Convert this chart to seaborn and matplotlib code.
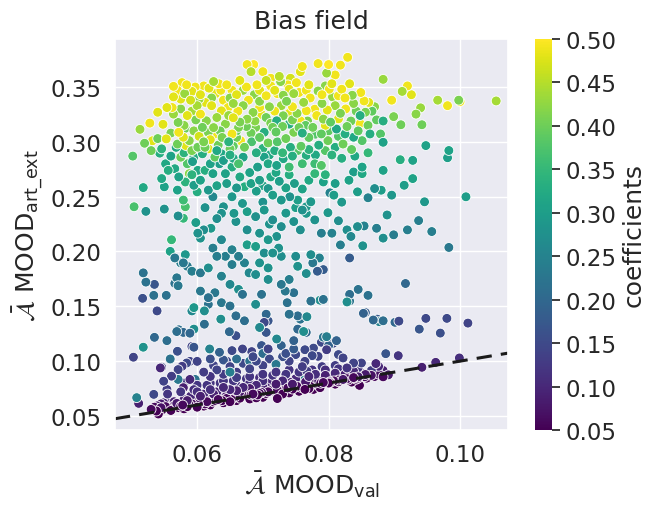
import numpy as np
import pandas as pd
import matplotlib
matplotlib.use("Agg")
import matplotlib.pyplot as plt
import seaborn as sns

# (MOOD_val, MOOD_art_ext, coefficient), by region
upper_cloud = [
    (0.0829,0.3771,0.49),(0.0818,0.3700,0.49),(0.0800,0.3705,0.50),(0.0784,0.3714,0.49),
    (0.0760,0.3687,0.49),(0.0757,0.3640,0.48),(0.0676,0.3705,0.49),(0.0686,0.3705,0.50),
    (0.0682,0.3640,0.45),(0.0700,0.3640,0.49),(0.0797,0.3627,0.43),(0.0810,0.3610,0.49),
    (0.0725,0.3597,0.45),(0.0712,0.3580,0.49),(0.0727,0.3550,0.42),(0.0738,0.3520,0.49),
    (0.0751,0.3540,0.49),(0.0691,0.3520,0.49),(0.0625,0.3550,0.44),(0.0633,0.3530,0.49),
    (0.0636,0.3470,0.49),(0.0618,0.3490,0.48),(0.0597,0.3500,0.49),(0.0577,0.3540,0.49),
    (0.0584,0.3520,0.49),(0.0564,0.3506,0.49),(0.0564,0.3410,0.48),(0.0581,0.3440,0.43),
    (0.0605,0.3430,0.48),(0.0653,0.3470,0.49),(0.0670,0.3470,0.43),(0.0687,0.3430,0.42),
    (0.0705,0.3420,0.49),(0.0718,0.3470,0.48),(0.0731,0.3425,0.42),(0.0747,0.3440,0.43),
    (0.0766,0.3470,0.49),(0.0784,0.3464,0.42),(0.0801,0.3480,0.49),(0.0806,0.3410,0.43),
    (0.0825,0.3400,0.49),(0.0836,0.3425,0.42),(0.0849,0.3450,0.49),(0.0854,0.3373,0.49),
    (0.0861,0.3360,0.48),(0.0870,0.3320,0.42),(0.0883,0.3570,0.43),(0.0896,0.3380,0.49),
    (0.0912,0.3460,0.44),(0.0920,0.3510,0.49),(0.0926,0.3430,0.48),(0.0933,0.3253,0.42),
    (0.0940,0.3310,0.43),(0.0942,0.3156,0.40),(0.0966,0.3380,0.44),(0.0981,0.3330,0.49),
    (0.0998,0.3380,0.41),(0.1000,0.3367,0.49),(0.1055,0.3373,0.44),(0.0910,0.3156,0.40),
    (0.0899,0.3230,0.41),(0.0883,0.3190,0.33),(0.0873,0.3200,0.39),(0.0848,0.3167,0.49),
    (0.0848,0.3240,0.33),(0.0834,0.3190,0.40),(0.0513,0.3114,0.43),(0.0520,0.2987,0.40),
    (0.0502,0.2870,0.38),(0.0540,0.3270,0.48),(0.0528,0.3171,0.49),(0.0532,0.3010,0.48),
    (0.0530,0.2920,0.40),(0.0546,0.2936,0.34),(0.0553,0.3027,0.48),(0.0554,0.3313,0.48),
    (0.0562,0.3313,0.49),(0.0564,0.3253,0.43),(0.0571,0.3177,0.41),(0.0582,0.3123,0.40),
    (0.0572,0.3087,0.49),(0.0579,0.3042,0.48),(0.0588,0.3011,0.42),(0.0583,0.2966,0.48),
    (0.0575,0.2860,0.40),(0.0585,0.2800,0.38),(0.0588,0.2710,0.42),(0.0614,0.3192,0.42),
    (0.0605,0.3253,0.49),(0.0608,0.3132,0.40),(0.0617,0.3087,0.41),(0.0627,0.3072,0.49),
    (0.0630,0.3222,0.43),(0.0637,0.3283,0.48),(0.0647,0.3313,0.49),(0.0643,0.3162,0.42),
    (0.0653,0.3072,0.49),(0.0601,0.2951,0.40),(0.0608,0.2891,0.33),(0.0617,0.2936,0.48),
    (0.0627,0.2861,0.39),(0.0637,0.2891,0.32),(0.0650,0.2936,0.40),(0.0666,0.3011,0.49),
    (0.0672,0.2951,0.40),(0.0663,0.3132,0.41),(0.0676,0.3207,0.42),(0.0685,0.3268,0.42),
    (0.0695,0.3313,0.49),(0.0705,0.3222,0.40),(0.0689,0.3132,0.41),(0.0702,0.3087,0.33),
    (0.0715,0.3132,0.40),(0.0721,0.3192,0.33),(0.0731,0.3238,0.41),(0.0740,0.3162,0.33),
    (0.0747,0.3087,0.41),(0.0757,0.3192,0.49),(0.0766,0.3283,0.49),(0.0779,0.3298,0.49),
    (0.0792,0.3207,0.42),(0.0776,0.3132,0.40),(0.0789,0.3072,0.39),(0.0799,0.3011,0.40),
    (0.0812,0.3117,0.32),(0.0825,0.3072,0.33),(0.0838,0.3042,0.32),(0.0851,0.3011,0.38),
    (0.0863,0.3072,0.33),(0.0879,0.3072,0.38),
    (0.0590,0.3380,0.47),(0.0600,0.3330,0.44),(0.0612,0.3360,0.48),(0.0622,0.3400,0.42),
    (0.0640,0.3380,0.49),(0.0655,0.3350,0.43),(0.0662,0.3280,0.49),(0.0670,0.3330,0.42),
    (0.0678,0.3380,0.49),(0.0695,0.3370,0.42),(0.0710,0.3320,0.42),(0.0718,0.3280,0.49),
    (0.0728,0.3330,0.43),(0.0736,0.3370,0.41),(0.0745,0.3320,0.49),(0.0752,0.3260,0.42),
    (0.0762,0.3360,0.43),(0.0772,0.3400,0.49),(0.0790,0.3350,0.42),(0.0798,0.3290,0.48),
    (0.0810,0.3330,0.43),(0.0818,0.3260,0.41),(0.0826,0.3300,0.49),(0.0838,0.3350,0.42),
    (0.0842,0.3280,0.40),(0.0856,0.3270,0.41),(0.0866,0.3280,0.39),(0.0768,0.3190,0.41),
    (0.0782,0.3240,0.49),(0.0803,0.3180,0.39),(0.0815,0.3210,0.48),(0.0735,0.3030,0.40),
    (0.0722,0.3000,0.38),(0.0708,0.2990,0.40),(0.0695,0.3040,0.39),(0.0682,0.3080,0.40),
    (0.0660,0.3040,0.40),(0.0648,0.3000,0.34),(0.0638,0.3040,0.41),(0.0620,0.3020,0.48),
    (0.0603,0.3050,0.47),(0.0595,0.3100,0.42),(0.0585,0.3240,0.48),(0.0575,0.3300,0.42),
    (0.0598,0.3200,0.41),(0.0655,0.3220,0.48),(0.0665,0.3180,0.41),(0.0712,0.3170,0.41),
    (0.0760,0.3080,0.33),(0.0770,0.3040,0.39),(0.0785,0.2970,0.33),(0.0795,0.2920,0.38),
    (0.0810,0.2950,0.33),(0.0822,0.2980,0.40),(0.0835,0.2930,0.39),(0.0758,0.2960,0.39),
    (0.0742,0.2950,0.33),
    (0.0570,0.3470,0.49),(0.0592,0.3460,0.48),(0.0610,0.3510,0.49),(0.0628,0.3440,0.48),
    (0.0645,0.3520,0.49),(0.0660,0.3430,0.48),(0.0675,0.3500,0.49),(0.0695,0.3470,0.48),
    (0.0712,0.3510,0.49),(0.0722,0.3440,0.49),(0.0740,0.3480,0.48),(0.0755,0.3450,0.49),
    (0.0770,0.3520,0.48),(0.0790,0.3430,0.49),(0.0805,0.3530,0.48),(0.0820,0.3480,0.49),
    (0.0832,0.3530,0.48),(0.0815,0.3420,0.49),(0.0795,0.3510,0.42),(0.0742,0.3580,0.47),
    (0.0705,0.3560,0.46),(0.0665,0.3560,0.48),(0.0650,0.3400,0.42),(0.0622,0.3330,0.48),
    (0.0603,0.3390,0.43),(0.0575,0.3390,0.48),
    (0.0580,0.3150,0.42),(0.0592,0.3280,0.44),(0.0610,0.3000,0.41),(0.0625,0.3130,0.42),
    (0.0635,0.3100,0.40),(0.0648,0.3240,0.43),(0.0660,0.3100,0.39),(0.0675,0.3140,0.40),
    (0.0688,0.3190,0.42),(0.0698,0.3250,0.48),(0.0720,0.3090,0.39),(0.0730,0.3140,0.40),
    (0.0745,0.3200,0.41),(0.0755,0.3130,0.40),(0.0765,0.3150,0.39),(0.0780,0.3070,0.38),
    (0.0800,0.3100,0.39),(0.0815,0.3050,0.38),(0.0828,0.3140,0.40),(0.0845,0.3100,0.39),
    (0.0860,0.3150,0.40),(0.0795,0.3150,0.48),(0.0740,0.3260,0.48),(0.0683,0.3000,0.37),
    (0.0655,0.2960,0.39),(0.0632,0.2970,0.40),(0.0612,0.2950,0.40),(0.0592,0.2920,0.41),
    (0.0570,0.2980,0.40),(0.0560,0.3080,0.41),(0.0548,0.3160,0.48),(0.0540,0.3030,0.40),
    (0.0700,0.2940,0.34),(0.0718,0.2920,0.33),(0.0730,0.2900,0.35),(0.0745,0.2870,0.33),
    (0.0770,0.2930,0.34),(0.0780,0.2880,0.32),(0.0805,0.2880,0.34),(0.0820,0.2850,0.33),
    (0.0840,0.2870,0.32),(0.0860,0.2900,0.35),(0.0650,0.2880,0.33),(0.0630,0.2920,0.32),
    (0.0595,0.2860,0.33),(0.0580,0.2900,0.34),
]

middle_teal = [
    (0.0504,0.2408,0.37),(0.0543,0.2897,0.33),(0.0546,0.2665,0.32),(0.0550,0.2590,0.31),
    (0.0556,0.2740,0.33),(0.0566,0.2755,0.32),(0.0518,0.2583,0.32),(0.0522,0.2366,0.28),
    (0.0550,0.2387,0.28),(0.0582,0.2634,0.34),(0.0601,0.2740,0.32),(0.0605,0.2650,0.31),
    (0.0595,0.2604,0.30),(0.0600,0.2544,0.33),(0.0579,0.2469,0.36),(0.0582,0.2408,0.37),
    (0.0571,0.2324,0.27),(0.0579,0.2303,0.35),(0.0598,0.2264,0.30),(0.0601,0.2167,0.28),
    (0.0610,0.2197,0.27),(0.0621,0.2212,0.29),(0.0605,0.2122,0.28),(0.0624,0.2710,0.31),
    (0.0634,0.2800,0.30),(0.0643,0.2710,0.31),(0.0653,0.2770,0.33),(0.0663,0.2800,0.37),
    (0.0883,0.2996,0.31),(0.0909,0.2837,0.33),(0.0948,0.2966,0.31),(0.0983,0.2921,0.31),
    (0.0981,0.2855,0.30),(0.1009,0.2499,0.30),(0.0928,0.2831,0.31),(0.0928,0.2665,0.31),
    (0.0915,0.2604,0.30),(0.0896,0.2514,0.29),(0.0946,0.2453,0.29),(0.0883,0.2740,0.31),
    (0.0851,0.2770,0.31),(0.0851,0.2710,0.32),(0.0838,0.2725,0.30),(0.0831,0.2650,0.31),
    (0.0844,0.2544,0.30),(0.0860,0.2490,0.25),(0.0870,0.2574,0.27),(0.0880,0.2559,0.30),
    (0.0808,0.2514,0.30),(0.0802,0.2535,0.25),(0.0792,0.2634,0.31),(0.0779,0.2710,0.35),
    (0.0789,0.2785,0.38),(0.0779,0.2800,0.36),(0.0760,0.2800,0.36),(0.0766,0.2876,0.33),
    (0.0753,0.2921,0.38),(0.0740,0.2770,0.36),(0.0731,0.2846,0.32),(0.0721,0.2785,0.31),
    (0.0708,0.2800,0.32),(0.0702,0.2861,0.31),(0.0692,0.2770,0.30),(0.0695,0.2650,0.30),
    (0.0682,0.2620,0.31),(0.0708,0.2574,0.29),(0.0672,0.2590,0.33),(0.0715,0.2514,0.30),
    (0.0728,0.2469,0.29),(0.0741,0.2499,0.28),(0.0753,0.2469,0.30),(0.0766,0.2408,0.29),
    (0.0669,0.2438,0.29),(0.0676,0.2363,0.30),(0.0689,0.2318,0.28),(0.0702,0.2378,0.29),
    (0.0715,0.2288,0.27),(0.0653,0.2499,0.29),(0.0656,0.2348,0.29),(0.0637,0.2348,0.28),
    (0.0624,0.2499,0.26),(0.0640,0.2408,0.28),(0.0659,0.2273,0.28),(0.0676,0.2197,0.27),
    (0.0695,0.2167,0.28),(0.0708,0.2107,0.29),(0.0721,0.2137,0.28),(0.0728,0.2227,0.27),
    (0.0747,0.2273,0.28),(0.0757,0.2197,0.27),(0.0766,0.2348,0.29),(0.0779,0.2288,0.28),
    (0.0760,0.2378,0.28),(0.0773,0.2453,0.29),(0.0799,0.2354,0.29),(0.0789,0.2167,0.24),
    (0.0805,0.2167,0.25),(0.0818,0.2060,0.24),(0.0828,0.2197,0.27),(0.0844,0.2227,0.27),
    (0.0854,0.2233,0.25),(0.0834,0.2137,0.26),(0.0852,0.2052,0.28),(0.0832,0.1941,0.18),
    (0.0873,0.2212,0.24),(0.0889,0.2333,0.28),(0.0899,0.2152,0.24),(0.0920,0.2197,0.24),
    (0.0937,0.2282,0.24),(0.0957,0.2182,0.24),(0.0983,0.2037,0.23),(0.0883,0.2122,0.27),
    (0.0690,0.2550,0.30),(0.0700,0.2600,0.31),(0.0712,0.2680,0.32),(0.0725,0.2640,0.30),
    (0.0735,0.2580,0.31),(0.0748,0.2620,0.30),(0.0720,0.2720,0.32),(0.0680,0.2720,0.31),
    (0.0665,0.2680,0.32),(0.0660,0.2580,0.29),(0.0645,0.2620,0.30),(0.0630,0.2600,0.31),
    (0.0617,0.2560,0.29),(0.0612,0.2400,0.28),(0.0630,0.2300,0.27),(0.0700,0.2450,0.28),
    (0.0710,0.2250,0.28),(0.0735,0.2350,0.29),(0.0750,0.2400,0.30),(0.0815,0.2280,0.27),
    (0.0820,0.2450,0.29),(0.0810,0.2620,0.30),(0.0795,0.2700,0.34),(0.0770,0.2650,0.32),
    (0.0760,0.2570,0.31),(0.0740,0.2700,0.33),(0.0710,0.2880,0.32),(0.0690,0.2900,0.33),
    (0.0670,0.2860,0.31),(0.0655,0.2850,0.32),(0.0640,0.2830,0.30),(0.0620,0.2800,0.31),
    (0.0612,0.2740,0.33),(0.0570,0.2560,0.31),(0.0592,0.2700,0.34),(0.0572,0.2680,0.31),
    (0.0593,0.2820,0.30),(0.0568,0.2950,0.32),(0.0560,0.2870,0.31),(0.0552,0.2800,0.32),
]

middle_blue = [
    (0.0786,0.1941,0.25),(0.0792,0.1835,0.18),(0.0783,0.1820,0.18),(0.0766,0.1799,0.27),
    (0.0773,0.1971,0.27),(0.0776,0.1896,0.23),(0.0750,0.1956,0.27),(0.0753,0.1865,0.28),
    (0.0724,0.2031,0.28),(0.0728,0.1956,0.27),(0.0715,0.1986,0.28),(0.0702,0.1986,0.27),
    (0.0689,0.2046,0.30),(0.0676,0.2061,0.30),(0.0695,0.1896,0.28),(0.0708,0.1850,0.28),
    (0.0689,0.1790,0.27),(0.0679,0.1805,0.26),(0.0708,0.1745,0.27),(0.0663,0.1956,0.24),
    (0.0653,0.1881,0.24),(0.0672,0.1896,0.25),(0.0637,0.2107,0.26),(0.0624,0.2031,0.24),
    (0.0653,0.2016,0.25),(0.0643,0.1956,0.24),(0.0630,0.1956,0.24),(0.0617,0.1850,0.27),
    (0.0637,0.1775,0.25),(0.0650,0.1700,0.26),(0.0663,0.1654,0.27),(0.0605,0.1805,0.23),
    (0.0592,0.1820,0.24),(0.0585,0.1865,0.23),(0.0579,0.1896,0.23),(0.0566,0.1941,0.23),
    (0.0575,0.1896,0.24),(0.0569,0.1760,0.23),(0.0561,0.2107,0.35),(0.0559,0.2001,0.31),
    (0.0582,0.1971,0.29),(0.0566,0.1709,0.22),(0.0571,0.1688,0.23),(0.0518,0.1805,0.22),
    (0.0522,0.1721,0.22),(0.0535,0.1700,0.17),(0.0517,0.1573,0.16),(0.0534,0.1600,0.22),
    (0.0553,0.1600,0.22),(0.0539,0.1458,0.15),(0.0595,0.1488,0.29),(0.0592,0.1458,0.26),
    (0.0611,0.1458,0.27),(0.0605,0.1639,0.23),(0.0617,0.1579,0.22),(0.0627,0.1624,0.23),
    (0.0617,0.1518,0.22),(0.0637,0.1533,0.23),(0.0650,0.1503,0.22),(0.0669,0.1609,0.22),
    (0.0659,0.1413,0.21),(0.0672,0.1368,0.21),(0.0689,0.1518,0.27),(0.0698,0.1609,0.22),
    (0.0705,0.1428,0.20),(0.0708,0.1368,0.17),(0.0728,0.1700,0.23),(0.0740,0.1745,0.24),
    (0.0734,0.1639,0.23),(0.0747,0.1624,0.22),(0.0737,0.1533,0.22),(0.0740,0.1428,0.22),
    (0.0753,0.1413,0.21),(0.0757,0.1383,0.22),(0.0773,0.1548,0.22),(0.0792,0.1563,0.22),
    (0.0832,0.1609,0.21),(0.0845,0.1654,0.22),(0.0832,0.1548,0.22),(0.0860,0.1600,0.22),
    (0.0856,0.1443,0.18),(0.0874,0.1383,0.18),(0.0883,0.1368,0.21),(0.0907,0.1365,0.15),
    (0.0917,0.1708,0.20),(0.0948,0.1390,0.15),(0.0938,0.1292,0.17),(0.0980,0.1390,0.15),
    (0.0970,0.1256,0.16),(0.1012,0.1347,0.14),(0.0828,0.1540,0.27),(0.0787,0.1556,0.27),
    (0.0762,0.1270,0.27),(0.0767,0.1405,0.26),
]

lower_scatter = [
    (0.0595,0.1292,0.27),(0.0579,0.1262,0.20),(0.0572,0.1286,0.21),(0.0611,0.1337,0.21),
    (0.0636,0.1383,0.27),(0.0649,0.1268,0.20),(0.0659,0.1232,0.16),(0.0695,0.1307,0.26),
    (0.0702,0.1353,0.15),(0.0705,0.1262,0.17),(0.0721,0.1202,0.26),(0.0728,0.1142,0.19),
    (0.0747,0.1187,0.19),(0.0747,0.1111,0.18),(0.0766,0.1262,0.20),(0.0753,0.1292,0.20),
    (0.0797,0.1223,0.24),(0.0812,0.1187,0.19),(0.0800,0.1142,0.19),(0.0789,0.1172,0.15),
    (0.0535,0.1217,0.20),(0.0518,0.1127,0.28),(0.0503,0.1036,0.14),(0.0554,0.1187,0.21),
    (0.0559,0.1020,0.22),(0.0546,0.0945,0.14),(0.0508,0.0667,0.25),(0.0511,0.0615,0.09),
    (0.0595,0.1127,0.17),(0.0619,0.1111,0.25),(0.0634,0.1081,0.19),(0.0653,0.1096,0.15),
    (0.0669,0.1111,0.14),(0.0683,0.1087,0.14),(0.0698,0.1142,0.17),(0.0708,0.1111,0.14),
    (0.0569,0.1270,0.21),(0.0589,0.1255,0.20),(0.0592,0.1134,0.14),(0.0853,0.1436,0.19),
    (0.0868,0.1375,0.20),(0.0877,0.1360,0.25),(0.0901,0.1354,0.20),
    (0.0942,0.0944,0.09),(0.0963,0.0989,0.10),(0.0999,0.1029,0.11),(0.0906,0.1050,0.12),
    (0.0887,0.1068,0.17),(0.0570,0.1090,0.16),(0.0620,0.1020,0.16),(0.0640,0.1010,0.17),
]

diagonal_band = [
    (0.0530,0.0560,0.06),(0.0538,0.0545,0.05),(0.0545,0.0575,0.07),(0.0541,0.0518,0.05),
    (0.0552,0.0585,0.06),(0.0558,0.0565,0.05),(0.0565,0.0595,0.07),(0.0572,0.0575,0.05),
    (0.0578,0.0600,0.06),(0.0585,0.0585,0.05),(0.0592,0.0610,0.06),(0.0598,0.0595,0.05),
    (0.0605,0.0625,0.06),(0.0612,0.0610,0.05),(0.0618,0.0640,0.07),(0.0625,0.0628,0.05),
    (0.0632,0.0650,0.06),(0.0638,0.0640,0.05),(0.0645,0.0660,0.06),(0.0652,0.0650,0.05),
    (0.0658,0.0675,0.07),(0.0665,0.0662,0.05),(0.0672,0.0690,0.06),(0.0678,0.0680,0.05),
    (0.0685,0.0700,0.06),(0.0692,0.0692,0.05),(0.0698,0.0715,0.07),(0.0705,0.0705,0.05),
    (0.0712,0.0730,0.06),(0.0718,0.0718,0.05),(0.0725,0.0745,0.07),(0.0732,0.0735,0.05),
    (0.0738,0.0755,0.06),(0.0745,0.0745,0.05),(0.0752,0.0770,0.06),(0.0758,0.0760,0.05),
    (0.0765,0.0780,0.06),(0.0772,0.0770,0.05),(0.0778,0.0795,0.07),(0.0785,0.0785,0.05),
    (0.0792,0.0805,0.06),(0.0800,0.0800,0.05),(0.0808,0.0820,0.06),(0.0815,0.0812,0.05),
    (0.0822,0.0835,0.06),(0.0830,0.0828,0.05),(0.0835,0.0809,0.05),(0.0847,0.0779,0.05),
    (0.0838,0.0850,0.06),(0.0845,0.0845,0.05),(0.0855,0.0858,0.06),(0.0865,0.0870,0.07),
    (0.0883,0.0857,0.06),(0.0877,0.0880,0.07),(0.0787,0.0758,0.05),(0.0777,0.0742,0.05),
    (0.0764,0.0742,0.05),(0.0802,0.0803,0.05),(0.0722,0.0659,0.05),(0.0700,0.0670,0.05),
    (0.0680,0.0655,0.05),(0.0660,0.0640,0.05),(0.0640,0.0620,0.05),(0.0620,0.0600,0.05),
    (0.0600,0.0580,0.05),(0.0580,0.0565,0.05),(0.0560,0.0550,0.05),(0.0740,0.0710,0.05),
    (0.0755,0.0725,0.05),
    (0.0535,0.0580,0.06),(0.0548,0.0560,0.05),(0.0562,0.0582,0.06),(0.0575,0.0590,0.06),
    (0.0588,0.0602,0.06),(0.0602,0.0610,0.06),(0.0615,0.0630,0.06),(0.0628,0.0640,0.06),
    (0.0642,0.0652,0.06),(0.0655,0.0665,0.06),(0.0668,0.0678,0.06),(0.0682,0.0692,0.06),
    (0.0695,0.0705,0.06),(0.0708,0.0720,0.06),(0.0722,0.0735,0.06),(0.0735,0.0748,0.06),
    (0.0748,0.0760,0.06),(0.0762,0.0772,0.06),(0.0775,0.0785,0.06),(0.0788,0.0798,0.06),
    (0.0802,0.0812,0.06),(0.0815,0.0828,0.06),(0.0828,0.0840,0.06),(0.0842,0.0835,0.05),
    (0.0858,0.0845,0.05),(0.0870,0.0860,0.06),(0.0610,0.0590,0.05),(0.0650,0.0630,0.05),
    (0.0690,0.0665,0.05),(0.0730,0.0700,0.05),(0.0770,0.0750,0.05),(0.0810,0.0790,0.05),
    (0.0539,0.0592,0.08),(0.0549,0.0620,0.09),(0.0559,0.0640,0.10),(0.0569,0.0615,0.08),
    (0.0580,0.0650,0.09),(0.0590,0.0680,0.10),(0.0600,0.0660,0.08),(0.0610,0.0700,0.10),
    (0.0620,0.0690,0.09),(0.0630,0.0720,0.10),(0.0640,0.0710,0.08),(0.0650,0.0740,0.10),
    (0.0660,0.0730,0.09),(0.0670,0.0760,0.10),(0.0680,0.0750,0.08),(0.0690,0.0780,0.10),
    (0.0700,0.0770,0.09),(0.0710,0.0800,0.10),(0.0720,0.0790,0.08),(0.0730,0.0820,0.10),
    (0.0740,0.0810,0.09),(0.0750,0.0840,0.10),(0.0760,0.0830,0.09),(0.0764,0.0833,0.08),
    (0.0791,0.0833,0.08),(0.0807,0.0842,0.08),(0.0822,0.0833,0.08),(0.0845,0.0857,0.08),
    (0.0856,0.0878,0.08),(0.0838,0.0908,0.10),(0.0872,0.0978,0.10),(0.0876,0.0953,0.10),
    (0.0891,0.0875,0.08),(0.0883,0.0915,0.09),(0.0770,0.0860,0.10),(0.0780,0.0880,0.11),
    (0.0795,0.0870,0.09),(0.0810,0.0890,0.10),(0.0825,0.0880,0.09),(0.0700,0.0820,0.11),
    (0.0680,0.0800,0.11),(0.0660,0.0780,0.11),(0.0640,0.0760,0.10),(0.0620,0.0740,0.11),
    (0.0600,0.0720,0.11),(0.0579,0.0758,0.09),(0.0589,0.0833,0.10),(0.0544,0.0938,0.10),
    (0.0545,0.0610,0.08),(0.0565,0.0630,0.09),(0.0585,0.0640,0.08),(0.0605,0.0680,0.09),
    (0.0625,0.0700,0.09),(0.0645,0.0690,0.08),(0.0665,0.0720,0.08),(0.0685,0.0740,0.09),
    (0.0705,0.0760,0.09),(0.0725,0.0770,0.08),(0.0745,0.0790,0.08),(0.0765,0.0810,0.08),
    (0.0785,0.0820,0.08),(0.0800,0.0850,0.09),(0.0818,0.0860,0.09),(0.0835,0.0875,0.09),
    (0.0850,0.0890,0.09),(0.0868,0.0900,0.09),
    (0.0549,0.0817,0.14),(0.0554,0.0742,0.13),(0.0534,0.0697,0.15),(0.0561,0.0863,0.13),
    (0.0571,0.0923,0.14),(0.0577,0.0953,0.13),(0.0584,0.0983,0.15),(0.0589,0.0998,0.14),
    (0.0600,0.0998,0.14),(0.0610,0.0900,0.13),(0.0620,0.0860,0.12),(0.0630,0.0920,0.14),
    (0.0640,0.0880,0.13),(0.0650,0.0950,0.14),(0.0660,0.0900,0.13),(0.0670,0.0980,0.15),
    (0.0680,0.0930,0.14),(0.0690,0.1000,0.15),(0.0700,0.0960,0.14),(0.0710,0.1020,0.15),
    (0.0720,0.0980,0.14),(0.0730,0.1040,0.16),(0.0740,0.1000,0.14),(0.0750,0.1060,0.15),
    (0.0760,0.0950,0.13),(0.0764,0.0998,0.14),(0.0767,0.0908,0.13),(0.0764,0.1104,0.15),
    (0.0777,0.1119,0.15),(0.0784,0.1044,0.14),(0.0797,0.1104,0.13),(0.0807,0.1163,0.15),
    (0.0822,0.1029,0.14),(0.0828,0.0938,0.12),(0.0838,0.0983,0.14),(0.0850,0.0983,0.14),
    (0.0865,0.0914,0.13),(0.0790,0.0950,0.13),(0.0810,0.0960,0.13),(0.0740,0.0920,0.12),
    (0.0720,0.0900,0.12),(0.0700,0.0880,0.12),(0.0680,0.0860,0.12),(0.0660,0.0850,0.13),
    (0.0640,0.0820,0.12),(0.0620,0.0800,0.12),(0.0600,0.0780,0.12),(0.0580,0.0800,0.13),
    (0.0555,0.0700,0.12),(0.0575,0.0720,0.12),(0.0595,0.0740,0.11),(0.0615,0.0780,0.12),
    (0.0635,0.0800,0.12),(0.0655,0.0820,0.12),(0.0675,0.0840,0.12),(0.0695,0.0850,0.11),
    (0.0715,0.0870,0.12),(0.0735,0.0880,0.12),(0.0755,0.0900,0.12),(0.0775,0.0920,0.12),
    (0.0795,0.0920,0.11),(0.0815,0.0930,0.12),(0.0625,0.0960,0.14),(0.0645,0.1000,0.15),
    (0.0685,0.1040,0.15),(0.0735,0.1070,0.16),(0.0775,0.1050,0.15),(0.0815,0.1060,0.15),
    (0.0845,0.0940,0.12),
    (0.0571,0.0833,0.23),(0.0597,0.0833,0.22),(0.0559,0.1014,0.24),(0.0650,0.0900,0.24),
    (0.0680,0.1000,0.22),(0.0720,0.0970,0.23),(0.0760,0.0830,0.24),(0.0792,0.1219,0.22),
    (0.0700,0.1070,0.21),(0.0660,0.1020,0.21),
]

title = "Bias field"
x_label = r"$\bar{\mathcal{A}}$ MOOD$_{\mathrm{val}}$"
y_label = r"$\bar{\mathcal{A}}$ MOOD$_{\mathrm{art\_ext}}$"
cbar_label = "coefficients"
coef_range = (0.05, 0.50)
cbar_ticks = [0.05, 0.10, 0.15, 0.20, 0.25, 0.30, 0.35, 0.40, 0.45, 0.50]

rows = upper_cloud + middle_teal + middle_blue + lower_scatter + diagonal_band
df = pd.DataFrame(rows, columns=["val", "art_ext", "coef"])
# interleave drawing order deterministically so no region sits entirely on top
order = np.argsort((np.arange(len(df)) * 7919) % len(df))
df = df.iloc[order].reset_index(drop=True)

sns.set_theme(style="darkgrid", font_scale=1.5)

fig = plt.figure(figsize=(6.6, 5.06), dpi=100)
ax = fig.add_axes([115/660, 1-431/506, (508-115)/660, (431-40)/506])
cax = fig.add_axes([535/660, 1-431/506, (552-535)/660, (431-40)/506])

sns.scatterplot(data=df, x="val", y="art_ext", hue="coef", palette="viridis",
                hue_norm=coef_range, legend=False, ax=ax, s=50,
                edgecolor="white", linewidth=0.6)

ax.set_xlim(0.0475, 0.1073)
ax.set_ylim(0.0372, 0.3938)
lims = np.array(ax.get_xlim())
ax.plot(lims, lims, color="#1a1a1a", linestyle="--", linewidth=2.2, dashes=(5, 3))
ax.set_xlim(*lims)

ax.set_xticks([0.06, 0.08, 0.10])
ax.set_xticklabels(["0.06", "0.08", "0.10"])
ax.set_yticks([0.05, 0.10, 0.15, 0.20, 0.25, 0.30, 0.35])
ax.set_yticklabels(["0.05", "0.10", "0.15", "0.20", "0.25", "0.30", "0.35"])
ax.set_xlabel(x_label, labelpad=2)
ax.set_ylabel(y_label, labelpad=4)
ax.set_title(title, pad=8)

sm = plt.cm.ScalarMappable(cmap="viridis",
                           norm=plt.Normalize(*coef_range))
cbar = fig.colorbar(sm, cax=cax)
cbar.set_ticks(cbar_ticks)
cbar.set_ticklabels([f"{t:.2f}" for t in cbar_ticks])
cbar.outline.set_visible(False)
cbar.ax.tick_params(right=True, length=6, width=1.25, color="#262626")
cbar.set_label(cbar_label)

fig.savefig("out.png", dpi=100)
